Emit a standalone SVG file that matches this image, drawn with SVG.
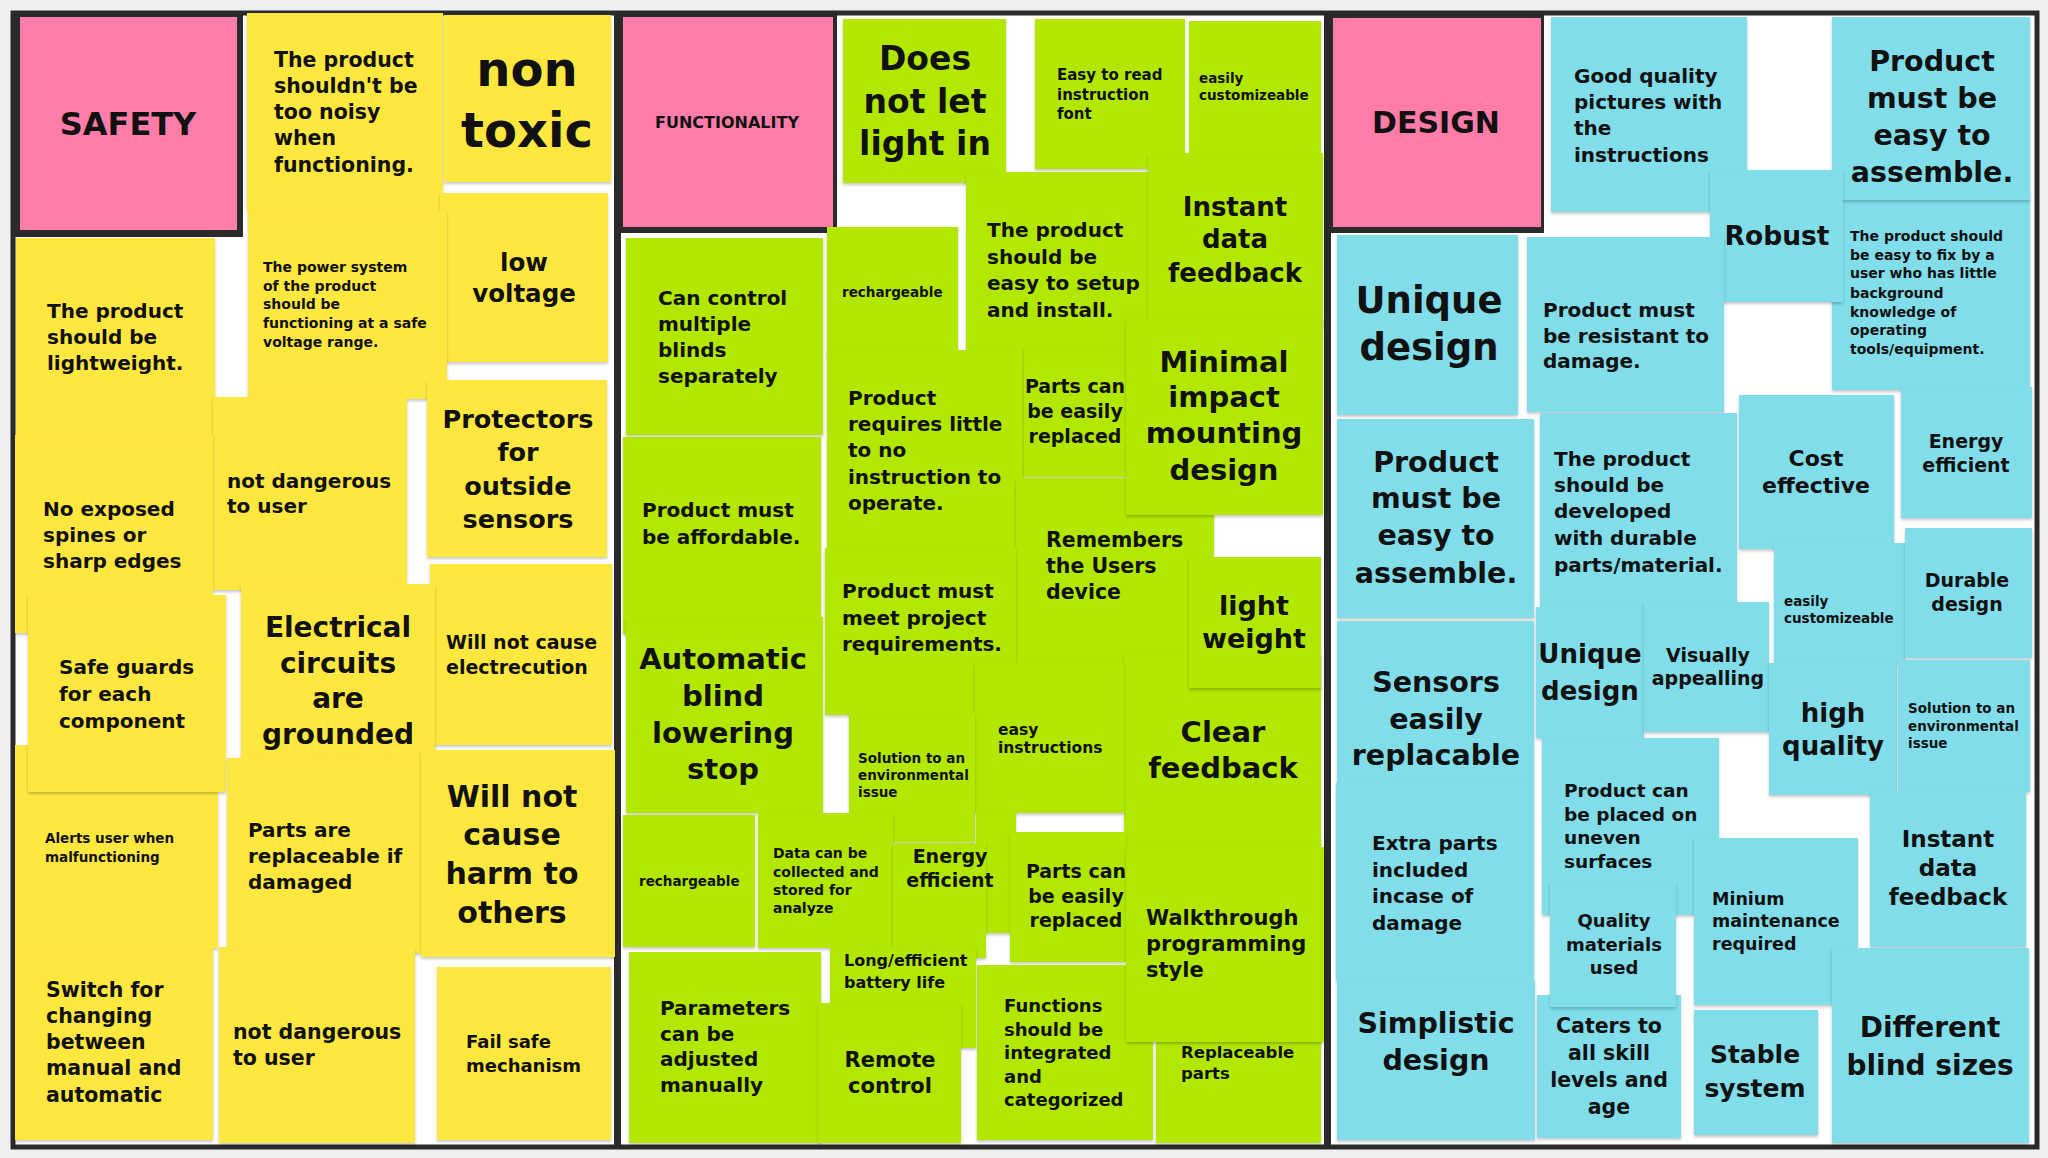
<svg xmlns="http://www.w3.org/2000/svg" width="2048" height="1158" viewBox="0 0 2048 1158">
<defs>
<filter id="sh" x="-5%" y="-5%" width="110%" height="115%"><feDropShadow dx="0" dy="2" stdDeviation="1.5" flood-color="#000" flood-opacity="0.22"/></filter>
<style>
.y{fill:#FEE83F;filter:url(#sh)}
.g{fill:#B2E800;filter:url(#sh)}
.b{fill:#80DDE9;filter:url(#sh)}
.p{fill:#FF7DA8}
.fr{fill:#2A2A2A}
text{font-family:"DejaVu Sans","Open Sans",sans-serif;font-weight:700;fill:#111}
.c{text-anchor:middle}
</style>
</defs>
<rect x="0" y="0" width="2048" height="1158" fill="#EEF0F2"/>
<rect x="13" y="13" width="2024" height="1134" fill="#FFFFFF" stroke="#2A2A2A" stroke-width="5"/>
<g id="dividers">
<rect class="fr" x="614" y="12" width="7" height="1136"/>
<rect class="fr" x="1324" y="12" width="7" height="1136"/>
</g>

<!-- SAFETY -->
<g id="h-safety"><rect class="fr" x="12" y="12" width="231" height="225"/><rect class="p" x="20" y="17" width="217" height="213"/><text class="c" x="128" y="135" font-size="32">SAFETY</text></g>
<g id="s-noisy"><rect class="y" x="247" y="13" width="196" height="198"/><text font-size="20.5"><tspan x="274" y="67">The product</tspan><tspan x="274" y="93">shouldn't be</tspan><tspan x="274" y="119">too noisy</tspan><tspan x="274" y="145">when</tspan><tspan x="274" y="172">functioning.</tspan></text></g>
<g id="s-nontoxic"><rect class="y" x="444" y="15" width="167" height="167"/><text class="c" font-size="48"><tspan x="527" y="86">non</tspan><tspan x="527" y="147">toxic</tspan></text></g>
<g id="s-lowvoltage"><rect class="y" x="440" y="193" width="168" height="169"/><text class="c" font-size="24.5"><tspan x="524" y="271">low</tspan><tspan x="524" y="302">voltage</tspan></text></g>
<g id="s-power"><rect class="y" x="248" y="211" width="199" height="188"/><text font-size="14"><tspan x="263" y="272">The power system</tspan><tspan x="263" y="291">of the product</tspan><tspan x="263" y="309">should be</tspan><tspan x="263" y="328">functioning at a safe</tspan><tspan x="263" y="347">voltage range.</tspan></text></g>
<g id="s-lightweight"><rect class="y" x="16" y="238" width="199" height="199"/><text font-size="20"><tspan x="47" y="318">The product</tspan><tspan x="47" y="344">should be</tspan><tspan x="47" y="370">lightweight.</tspan></text></g>
<g id="s-protectors"><rect class="y" x="427" y="380" width="180" height="177"/><text class="c" font-size="25.5"><tspan x="518" y="428">Protectors</tspan><tspan x="518" y="461">for</tspan><tspan x="518" y="495">outside</tspan><tspan x="518" y="528">sensors</tspan></text></g>
<g id="s-notdangerous1"><rect class="y" x="213" y="397" width="194" height="193"/><text font-size="20"><tspan x="227" y="488">not dangerous</tspan><tspan x="227" y="513">to user</tspan></text></g>
<g id="s-noexposed"><rect class="y" x="15" y="435" width="198" height="198"/><text font-size="20"><tspan x="43" y="516">No exposed</tspan><tspan x="43" y="542">spines or</tspan><tspan x="43" y="568">sharp edges</tspan></text></g>
<g id="s-electrecution"><rect class="y" x="430" y="564" width="182" height="181"/><text font-size="19"><tspan x="446" y="649">Will not cause</tspan><tspan x="446" y="674">electrecution</tspan></text></g>
<g id="s-electrical"><rect class="y" x="241" y="584" width="194" height="193"/><text class="c" font-size="28"><tspan x="338" y="637">Electrical</tspan><tspan x="338" y="673">circuits</tspan><tspan x="338" y="708">are</tspan><tspan x="338" y="744">grounded</tspan></text></g>
<g id="s-alerts"><rect class="y" x="15" y="745" width="203" height="203"/><text font-size="13.5"><tspan x="45" y="843">Alerts user when</tspan><tspan x="45" y="862">malfunctioning</tspan></text></g>
<g id="s-safeguards"><rect class="y" x="28" y="595" width="198" height="197"/><text font-size="20"><tspan x="59" y="674">Safe guards</tspan><tspan x="59" y="701">for each</tspan><tspan x="59" y="728">component</tspan></text></g>
<g id="s-partsreplaceable"><rect class="y" x="227" y="758" width="194" height="195"/><text font-size="20"><tspan x="248" y="837">Parts are</tspan><tspan x="248" y="863">replaceable if</tspan><tspan x="248" y="889">damaged</tspan></text></g>
<g id="s-harm"><rect class="y" x="421" y="750" width="194" height="207"/><text class="c" font-size="30"><tspan x="512" y="807">Will not</tspan><tspan x="512" y="845">cause</tspan><tspan x="512" y="884">harm to</tspan><tspan x="512" y="923">others</tspan></text></g>
<g id="s-switch"><rect class="y" x="15" y="948" width="198" height="192"/><text font-size="20.5"><tspan x="46" y="997">Switch for</tspan><tspan x="46" y="1023">changing</tspan><tspan x="46" y="1049">between</tspan><tspan x="46" y="1075">manual and</tspan><tspan x="46" y="1102">automatic</tspan></text></g>
<g id="s-notdangerous2"><rect class="y" x="219" y="947" width="196" height="196"/><text font-size="20.5"><tspan x="233" y="1039">not dangerous</tspan><tspan x="233" y="1065">to user</tspan></text></g>
<g id="s-failsafe"><rect class="y" x="437" y="967" width="174" height="173"/><text font-size="18"><tspan x="466" y="1048">Fail safe</tspan><tspan x="466" y="1072">mechanism</tspan></text></g>

<!-- FUNCTIONALITY -->
<g id="h-functionality"><rect class="fr" x="618" y="12" width="219" height="221"/><rect class="p" x="623" y="17" width="210" height="210"/><text class="c" x="727" y="128" font-size="16">FUNCTIONALITY</text></g>
<g id="f-doesnot"><rect class="g" x="843" y="19" width="163" height="164"/><text class="c" font-size="33"><tspan x="925" y="70">Does</tspan><tspan x="925" y="113">not let</tspan><tspan x="925" y="155">light in</tspan></text></g>
<g id="f-easyread"><rect class="g" x="1035" y="19" width="150" height="150"/><text font-size="15"><tspan x="1057" y="80">Easy to read</tspan><tspan x="1057" y="100">instruction</tspan><tspan x="1057" y="119">font</tspan></text></g>
<g id="f-customize"><rect class="g" x="1189" y="21" width="132" height="132"/><text font-size="13.5"><tspan x="1199" y="83">easily</tspan><tspan x="1199" y="100">customizeable</tspan></text></g>
<g id="f-setup"><rect class="g" x="966" y="172" width="182" height="180"/><text font-size="20"><tspan x="987" y="237">The product</tspan><tspan x="987" y="264">should be</tspan><tspan x="987" y="290">easy to setup</tspan><tspan x="987" y="317">and install.</tspan></text></g>
<g id="f-instant"><rect class="g" x="1148" y="153" width="175" height="175"/><text class="c" font-size="26"><tspan x="1235" y="216">Instant</tspan><tspan x="1235" y="248">data</tspan><tspan x="1235" y="282">feedback</tspan></text></g>
<g id="f-cancontrol"><rect class="g" x="626" y="238" width="197" height="197"/><text font-size="20"><tspan x="658" y="305">Can control</tspan><tspan x="658" y="331">multiple</tspan><tspan x="658" y="357">blinds</tspan><tspan x="658" y="383">separately</tspan></text></g>
<g id="f-recharge1"><rect class="g" x="827" y="227" width="131" height="131"/><text x="842" y="297" font-size="13.5">rechargeable</text></g>
<g id="f-requires"><rect class="g" x="827" y="350" width="197" height="198"/><text font-size="20"><tspan x="848" y="405">Product</tspan><tspan x="848" y="431">requires little</tspan><tspan x="848" y="457">to no</tspan><tspan x="848" y="484">instruction to</tspan><tspan x="848" y="510">operate.</tspan></text></g>
<g id="f-parts1"><rect class="g" x="1024" y="347" width="116" height="130"/><text class="c" font-size="19"><tspan x="1075" y="393">Parts can</tspan><tspan x="1075" y="418">be easily</tspan><tspan x="1075" y="443">replaced</tspan></text></g>
<g id="f-remembers"><rect class="g" x="1016" y="478" width="198" height="187"/><text font-size="20.5"><tspan x="1046" y="547">Remembers</tspan><tspan x="1046" y="573">the Users</tspan><tspan x="1046" y="599">device</tspan></text></g>
<g id="f-minimal"><rect class="g" x="1126" y="318" width="197" height="197"/><text class="c" font-size="29"><tspan x="1224" y="372">Minimal</tspan><tspan x="1224" y="407">impact</tspan><tspan x="1224" y="443">mounting</tspan><tspan x="1224" y="480">design</tspan></text></g>
<g id="f-affordable"><rect class="g" x="623" y="437" width="198" height="197"/><text font-size="20"><tspan x="642" y="517">Product must</tspan><tspan x="642" y="544">be affordable.</tspan></text></g>
<g id="f-meet"><rect class="g" x="825" y="548" width="191" height="167"/><text font-size="20"><tspan x="842" y="598">Product must</tspan><tspan x="842" y="625">meet project</tspan><tspan x="842" y="651">requirements.</tspan></text></g>
<g id="f-automatic"><rect class="g" x="626" y="617" width="197" height="196"/><text class="c" font-size="29"><tspan x="723" y="669">Automatic</tspan><tspan x="723" y="706">blind</tspan><tspan x="723" y="743">lowering</tspan><tspan x="723" y="779">stop</tspan></text></g>
<g id="f-clear"><rect class="g" x="1124" y="653" width="197" height="194"/><text class="c" font-size="29"><tspan x="1223" y="742">Clear</tspan><tspan x="1223" y="778">feedback</tspan></text></g>
<g id="f-lightweight"><rect class="g" x="1189" y="557" width="132" height="131"/><text class="c" font-size="27"><tspan x="1254" y="615">light</tspan><tspan x="1254" y="648">weight</tspan></text></g>
<g id="f-easyinstr"><rect class="g" x="975" y="663" width="149" height="150"/><text font-size="15.5"><tspan x="998" y="735">easy</tspan><tspan x="998" y="753">instructions</tspan></text></g>
<g id="f-solution"><rect class="g" x="849" y="713" width="126" height="129"/><text font-size="13.5"><tspan x="858" y="763">Solution to an</tspan><tspan x="858" y="780">environmental</tspan><tspan x="858" y="797">issue</tspan></text></g>
<rect class="g" x="976" y="812" width="40" height="121"/>
<g id="f-recharge2"><rect class="g" x="623" y="815" width="132" height="132"/><text x="639" y="886" font-size="13.5">rechargeable</text></g>
<g id="f-data"><rect class="g" x="758" y="813" width="135" height="135"/><text font-size="14"><tspan x="773" y="858">Data can be</tspan><tspan x="773" y="877">collected and</tspan><tspan x="773" y="895">stored for</tspan><tspan x="773" y="913">analyze</tspan></text></g>
<g id="f-energy"><rect class="g" x="893" y="843" width="93" height="115"/><text class="c" font-size="19"><tspan x="950" y="863">Energy</tspan><tspan x="950" y="887">efficient</tspan></text></g>
<g id="f-parts2"><rect class="g" x="1010" y="832" width="116" height="130"/><text class="c" font-size="19"><tspan x="1076" y="878">Parts can</tspan><tspan x="1076" y="903">be easily</tspan><tspan x="1076" y="927">replaced</tspan></text></g>
<g id="f-replaceable"><rect class="g" x="1156" y="975" width="165" height="168"/><text font-size="16.5"><tspan x="1181" y="1058">Replaceable</tspan><tspan x="1181" y="1079">parts</tspan></text></g>
<g id="f-functions"><rect class="g" x="977" y="965" width="176" height="175"/><text font-size="18"><tspan x="1004" y="1012">Functions</tspan><tspan x="1004" y="1036">should be</tspan><tspan x="1004" y="1059">integrated</tspan><tspan x="1004" y="1083">and</tspan><tspan x="1004" y="1106">categorized</tspan></text></g>
<g id="f-walkthrough"><rect class="g" x="1126" y="847" width="198" height="195"/><text font-size="21"><tspan x="1146" y="925">Walkthrough</tspan><tspan x="1146" y="951">programming</tspan><tspan x="1146" y="977">style</tspan></text></g>
<g id="f-battery"><rect class="g" x="830" y="948" width="146" height="100"/><text font-size="16"><tspan x="844" y="966">Long/efficient</tspan><tspan x="844" y="988">battery life</tspan></text></g>
<g id="f-parameters"><rect class="g" x="629" y="952" width="192" height="191"/><text font-size="20"><tspan x="660" y="1015">Parameters</tspan><tspan x="660" y="1041">can be</tspan><tspan x="660" y="1066">adjusted</tspan><tspan x="660" y="1092">manually</tspan></text></g>
<g id="f-remote"><rect class="g" x="818" y="1003" width="143" height="140"/><text class="c" font-size="21"><tspan x="890" y="1067">Remote</tspan><tspan x="890" y="1093">control</tspan></text></g>

<!-- DESIGN -->
<g id="h-design"><rect class="fr" x="1328" y="12" width="216" height="221"/><rect class="p" x="1333" y="18" width="208" height="209"/><text class="c" x="1436" y="133" font-size="30">DESIGN</text></g>
<g id="d-goodquality"><rect class="b" x="1551" y="17" width="196" height="195"/><text font-size="20"><tspan x="1574" y="83">Good quality</tspan><tspan x="1574" y="109">pictures with</tspan><tspan x="1574" y="135">the</tspan><tspan x="1574" y="162">instructions</tspan></text></g>
<g id="d-fix"><rect class="b" x="1832" y="190" width="198" height="200"/><text font-size="14"><tspan x="1850" y="241">The product should</tspan><tspan x="1850" y="260">be easy to fix by a</tspan><tspan x="1850" y="278">user who has little</tspan><tspan x="1850" y="298">background</tspan><tspan x="1850" y="317">knowledge of</tspan><tspan x="1850" y="335">operating</tspan><tspan x="1850" y="354">tools/equipment.</tspan></text></g>
<g id="d-assemble1"><rect class="b" x="1832" y="17" width="198" height="183"/><text class="c" font-size="28.5"><tspan x="1932" y="71">Product</tspan><tspan x="1932" y="108">must be</tspan><tspan x="1932" y="145">easy to</tspan><tspan x="1932" y="182">assemble.</tspan></text></g>
<g id="d-robust"><rect class="b" x="1710" y="170" width="133" height="132"/><text class="c" x="1777" y="245" font-size="26.5">Robust</text></g>
<g id="d-unique1"><rect class="b" x="1337" y="235" width="181" height="180"/><text class="c" font-size="37"><tspan x="1429" y="313">Unique</tspan><tspan x="1429" y="360">design</tspan></text></g>
<g id="d-resistant"><rect class="b" x="1527" y="237" width="197" height="175"/><text font-size="20"><tspan x="1543" y="317">Product must</tspan><tspan x="1543" y="343">be resistant to</tspan><tspan x="1543" y="368">damage.</tspan></text></g>
<g id="d-assemble2"><rect class="b" x="1337" y="419" width="197" height="199"/><text class="c" font-size="28.5"><tspan x="1436" y="472">Product</tspan><tspan x="1436" y="508">must be</tspan><tspan x="1436" y="545">easy to</tspan><tspan x="1436" y="583">assemble.</tspan></text></g>
<g id="d-durabledev"><rect class="b" x="1540" y="413" width="197" height="194"/><text font-size="20"><tspan x="1554" y="466">The product</tspan><tspan x="1554" y="492">should be</tspan><tspan x="1554" y="518">developed</tspan><tspan x="1554" y="545">with durable</tspan><tspan x="1554" y="572">parts/material.</tspan></text></g>
<g id="d-cost"><rect class="b" x="1739" y="395" width="155" height="154"/><text class="c" font-size="22"><tspan x="1816" y="466">Cost</tspan><tspan x="1816" y="493">effective</tspan></text></g>
<g id="d-energy"><rect class="b" x="1901" y="387" width="131" height="131"/><text class="c" font-size="19"><tspan x="1966" y="448">Energy</tspan><tspan x="1966" y="472">efficient</tspan></text></g>
<g id="d-custom"><rect class="b" x="1774" y="543" width="131" height="120"/><text font-size="13.5"><tspan x="1784" y="606">easily</tspan><tspan x="1784" y="623">customizeable</tspan></text></g>
<g id="d-durabledesign"><rect class="b" x="1905" y="528" width="127" height="130"/><text class="c" font-size="19"><tspan x="1967" y="587">Durable</tspan><tspan x="1967" y="611">design</tspan></text></g>
<g id="d-sensors"><rect class="b" x="1337" y="621" width="197" height="162"/><text class="c" font-size="28.5"><tspan x="1436" y="692">Sensors</tspan><tspan x="1436" y="729">easily</tspan><tspan x="1436" y="765">replacable</tspan></text></g>
<g id="d-unique2"><rect class="b" x="1536" y="607" width="108" height="131"/><text class="c" font-size="26"><tspan x="1590" y="663">Unique</tspan><tspan x="1590" y="700">design</tspan></text></g>
<g id="d-visually"><rect class="b" x="1644" y="602" width="125" height="130"/><text class="c" font-size="19"><tspan x="1708" y="662">Visually</tspan><tspan x="1708" y="685">appealling</tspan></text></g>
<g id="d-high"><rect class="b" x="1769" y="663" width="128" height="132"/><text class="c" font-size="26"><tspan x="1833" y="722">high</tspan><tspan x="1833" y="755">quality</tspan></text></g>
<g id="d-solution"><rect class="b" x="1898" y="660" width="132" height="132"/><text font-size="13.5"><tspan x="1908" y="713">Solution to an</tspan><tspan x="1908" y="731">environmental</tspan><tspan x="1908" y="748">issue</tspan></text></g>
<g id="d-placed"><rect class="b" x="1542" y="738" width="177" height="177"/><text font-size="18.5"><tspan x="1564" y="797">Product can</tspan><tspan x="1564" y="821">be placed on</tspan><tspan x="1564" y="844">uneven</tspan><tspan x="1564" y="868">surfaces</tspan></text></g>
<g id="d-extra"><rect class="b" x="1336" y="783" width="198" height="197"/><text font-size="20"><tspan x="1372" y="850">Extra parts</tspan><tspan x="1372" y="877">included</tspan><tspan x="1372" y="903">incase of</tspan><tspan x="1372" y="930">damage</tspan></text></g>
<g id="d-instant"><rect class="b" x="1870" y="792" width="156" height="155"/><text class="c" font-size="23"><tspan x="1948" y="847">Instant</tspan><tspan x="1948" y="876">data</tspan><tspan x="1948" y="905">feedback</tspan></text></g>
<g id="d-minium"><rect class="b" x="1694" y="838" width="164" height="167"/><text font-size="17.5"><tspan x="1712" y="905">Minium</tspan><tspan x="1712" y="927">maintenance</tspan><tspan x="1712" y="950">required</tspan></text></g>
<g id="d-caters"><rect class="b" x="1537" y="995" width="144" height="143"/><text class="c" font-size="20.5"><tspan x="1609" y="1033">Caters to</tspan><tspan x="1609" y="1060">all skill</tspan><tspan x="1609" y="1087">levels and</tspan><tspan x="1609" y="1114">age</tspan></text></g>
<g id="d-quality"><rect class="b" x="1550" y="882" width="126" height="125"/><text class="c" font-size="18"><tspan x="1614" y="927">Quality</tspan><tspan x="1614" y="951">materials</tspan><tspan x="1614" y="974">used</tspan></text></g>
<g id="d-simplistic"><rect class="b" x="1337" y="980" width="198" height="160"/><text class="c" font-size="28.5"><tspan x="1436" y="1033">Simplistic</tspan><tspan x="1436" y="1070">design</tspan></text></g>
<g id="d-stable"><rect class="b" x="1694" y="1010" width="124" height="125"/><text class="c" font-size="25"><tspan x="1755" y="1063">Stable</tspan><tspan x="1755" y="1097">system</tspan></text></g>
<g id="d-different"><rect class="b" x="1832" y="948" width="197" height="195"/><text class="c" font-size="28"><tspan x="1930" y="1037">Different</tspan><tspan x="1930" y="1075">blind sizes</tspan></text></g>
<g id="connectors"></g>
</svg>
